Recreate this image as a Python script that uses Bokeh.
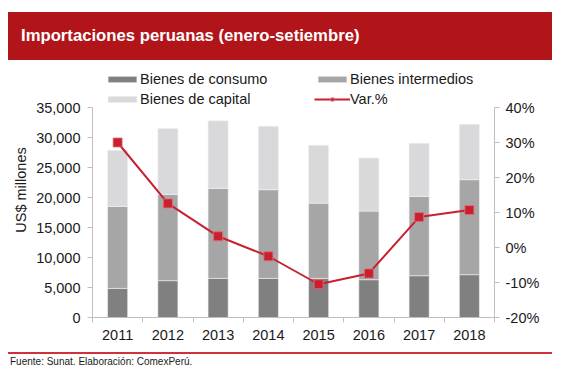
from bokeh.plotting import figure
from bokeh.layouts import column
from bokeh.models import (ColumnDataSource, Range1d, LinearAxis, FixedTicker, Div,
                          NumeralTickFormatter, PrintfTickFormatter, Legend, LegendItem)
from bokeh.embed import file_html
from bokeh.resources import INLINE

# ---- data ----
years = ["2011", "2012", "2013", "2014", "2015", "2016", "2017", "2018"]
consumo = [4850, 6140, 6520, 6520, 6520, 6300, 6970, 7140]
intermedios = [13660, 14380, 15000, 14780, 12540, 11430, 13210, 15830]
capital = [9370, 10980, 11260, 10590, 9650, 8860, 8870, 9250]
var_pct = [30.0, 12.6, 3.2, -2.5, -10.5, -7.4, 8.7, 10.7]
left_ticks = [0, 5000, 10000, 15000, 20000, 25000, 30000, 35000]
right_ticks = [-20, -10, 0, 10, 20, 30, 40]

title_text = "Importaciones peruanas (enero-setiembre)"
source_text = "Fuente: Sunat. Elaboración: ComexPerú."
series_names = ["Bienes de consumo", "Bienes intermedios", "Bienes de capital", "Var.%"]

FONT = "Liberation Sans"
RED_BANNER = "#B1151A"
RED_LINE = "#C8202F"
GREY_AX = "#BFBFBF"
TXT = "#1A1A1A"

# ---- geometry ----
W, H = 553, 292
BL, BR, BT, BB = 92, 59, 2, 35
FH = H - BT - BB                  # 255 px frame; axes cover the lower 210 px
AX_PX = 210
EXTRA = FH - AX_PX                # room above the axes for the legend
y_lo, y_hi = left_ticks[0], left_ticks[-1]
p_lo, p_hi = right_ticks[0], right_ticks[-1]
y_top = y_hi + EXTRA * (y_hi - y_lo) / AX_PX
p_top = p_hi + EXTRA * (p_hi - p_lo) / AX_PX

# ---- banner ----
banner = Div(text=title_text, width=544, height=48, margin=(12, 0, 0, 8),
             styles={"background-color": RED_BANNER, "color": "white", "font-family": FONT,
                     "font-size": "16.7px", "font-weight": "bold", "line-height": "48px",
                     "padding-left": "13px", "box-sizing": "border-box", "white-space": "nowrap"})

# ---- main chart ----
n = len(years)
xpos = [i + 0.5 for i in range(n)]          # category centres
bounds = [float(i) for i in range(n + 1)]   # category boundaries
src = ColumnDataSource(dict(x=xpos, year=years, consumo=consumo, intermedios=intermedios,
                            capital=capital, var=var_pct))

p = figure(width=W, height=H, x_range=Range1d(0, n), y_range=Range1d(y_lo, y_top),
           x_axis_location=None, output_backend="svg", toolbar_location=None,
           min_border_left=BL, min_border_right=BR, min_border_top=BT, min_border_bottom=BB,
           outline_line_color=None, background_fill_color="white", border_fill_color="white",
           margin=0)
p.grid.visible = False

bars = p.vbar_stack(["consumo", "intermedios", "capital"], x="x", width=0.4, source=src,
                    fill_color=["#808080", "#A6A6A6", "#D9D8DA"], line_color="#F2F2F2", line_width=0.6)

p.extra_y_ranges = {"pct": Range1d(p_lo, p_top)}

ln = p.line(x="x", y="var", source=src, y_range_name="pct", line_color=RED_LINE, line_width=2)
mk = p.scatter(x="x", y="var", source=src, y_range_name="pct", marker="square", size=9,
               fill_color=RED_LINE, line_color="#E0707A", line_width=0.8)

# left axis
ya = p.yaxis[0]
ya.ticker = FixedTicker(ticks=left_ticks)
ya.formatter = NumeralTickFormatter(format="0,0")
ya.axis_label = "US$ millones"
ya.bounds = (y_lo, y_hi)

# right axis
ra = LinearAxis(y_range_name="pct", ticker=FixedTicker(ticks=right_ticks),
                formatter=PrintfTickFormatter(format="%d%%"), bounds=(p_lo, p_hi))
p.add_layout(ra, "right")

# bottom axis: labels at category centres, ticks at category boundaries
xa = LinearAxis(ticker=FixedTicker(ticks=xpos, minor_ticks=bounds),
                major_label_overrides={c: y for c, y in zip(xpos, years)})
p.add_layout(xa, "below")

for ax in (ya, ra, xa):
    ax.axis_line_color = GREY_AX
    ax.major_tick_line_color = GREY_AX
    ax.major_tick_out = 5
    ax.major_tick_in = 0
    ax.minor_tick_line_color = None
    ax.major_label_text_font = FONT
    ax.major_label_text_font_size = "14.5px"
    ax.major_label_text_color = TXT
    ax.axis_label_text_font = FONT
    ax.axis_label_text_font_size = "14.5px"
    ax.axis_label_text_font_style = "normal"
    ax.axis_label_text_color = TXT

ya.major_label_standoff = 7
ya.axis_label_standoff = 4
ra.major_label_standoff = 6
xa.major_tick_line_color = None
xa.minor_tick_line_color = GREY_AX
xa.minor_tick_out = 5
xa.minor_tick_in = 0
xa.major_label_standoff = 7

legend = Legend(items=[LegendItem(label=series_names[0], renderers=[bars[0]]),
                       LegendItem(label=series_names[1], renderers=[bars[1]]),
                       LegendItem(label=series_names[2], renderers=[bars[2]]),
                       LegendItem(label=series_names[3], renderers=[ln, mk])],
                orientation="horizontal", ncols=2,
                location=(12, AX_PX - 1.5), margin=0, padding=2, spacing=0,
                glyph_width=36, glyph_height=8, label_standoff=0,
                label_width=174, label_height=20,
                label_text_font=FONT, label_text_font_size="14.5px", label_text_color=TXT,
                border_line_color=None, background_fill_alpha=0)
p.add_layout(legend, "center")

# ---- footer ----
footer = Div(text=source_text, width=544, height=20, margin=(0, 0, 0, 8),
             styles={"border-top": "2px solid #D2303D", "color": TXT, "font-family": FONT,
                     "font-size": "10px", "line-height": "12px", "padding-top": "2px",
                     "padding-left": "2px", "box-sizing": "border-box", "white-space": "nowrap"})

layout = column(banner, p, footer, spacing=0)
open("out.html", "w").write(file_html(layout, INLINE))
